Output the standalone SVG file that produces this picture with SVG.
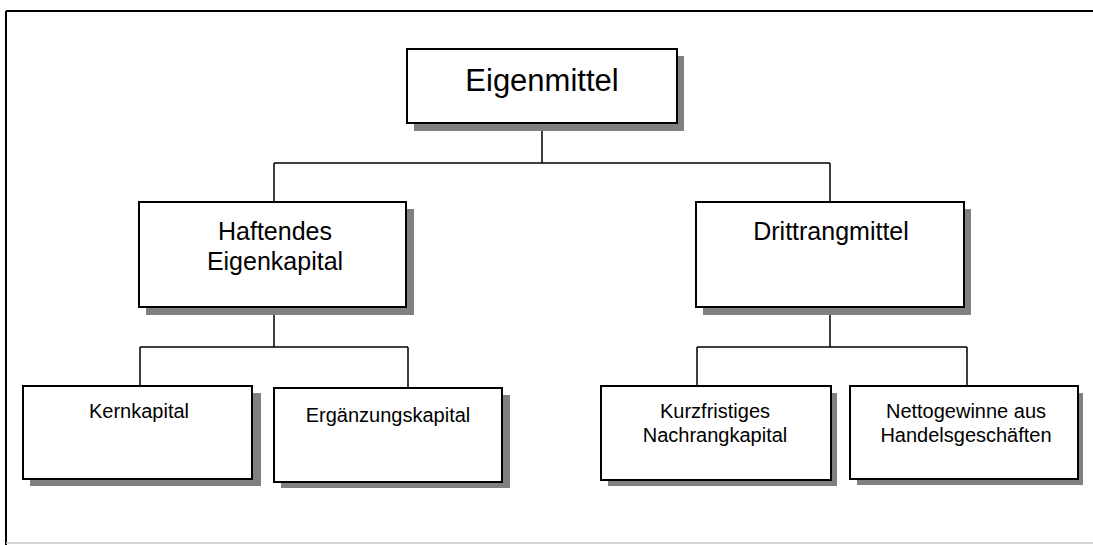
<svg xmlns="http://www.w3.org/2000/svg" width="1093" height="545" viewBox="0 0 1093 545">
<style>
.box{fill:#fff;stroke:#000;stroke-width:2}
.sh{fill:#808080}
.ln{fill:none;stroke:#000;stroke-width:1.5}
text{font-family:"Liberation Sans",Arial,sans-serif;fill:#000;text-anchor:middle}
</style>
<rect width="1093" height="545" fill="#fff"/>
<g id="frame">
<line x1="6" y1="11" x2="1093" y2="11" stroke="#000" stroke-width="2"/>
<line x1="6" y1="11" x2="6" y2="545" stroke="#000" stroke-width="2"/>
<line x1="6" y1="543" x2="1093" y2="543" stroke="#c8c8c8" stroke-width="1.5"/>
</g>
<g id="connectors">
<path class="ln" d="M542,123 V163 M274,163 H830 M274,163 V202 M830,163 V202"/>
<path class="ln" d="M274,307 V347 M140,347 H408 M140,347 V386 M408,347 V388"/>
<path class="ln" d="M830,307 V347 M697,347 H967 M697,347 V386 M967,347 V386"/>
</g>
<g id="n-eigenmittel">
<rect class="sh" x="414" y="56" width="270" height="75"/>
<rect class="box" x="407" y="49" width="270" height="74"/>
<text x="542" y="91" font-size="31">Eigenmittel</text>
</g>
<g id="n-haftendes">
<rect class="sh" x="146" y="209" width="268" height="106"/>
<rect class="box" x="139" y="202" width="267" height="105"/>
<text x="275" y="240" font-size="25">Haftendes</text>
<text x="275" y="270" font-size="25">Eigenkapital</text>
</g>
<g id="n-drittrang">
<rect class="sh" x="703" y="209" width="268" height="106"/>
<rect class="box" x="696" y="202" width="268" height="105"/>
<text x="831" y="240" font-size="25">Drittrangmittel</text>
</g>
<g id="n-kern">
<rect class="sh" x="30" y="393" width="231" height="93"/>
<rect class="box" x="23" y="386" width="229" height="93"/>
<text x="139" y="418" font-size="20">Kernkapital</text>
</g>
<g id="n-ergaenzung">
<rect class="sh" x="281" y="395" width="229" height="93"/>
<rect class="box" x="274" y="388" width="228" height="94"/>
<text x="388" y="422" font-size="20">Ergänzungskapital</text>
</g>
<g id="n-kurzfristig">
<rect class="sh" x="608" y="393" width="229" height="93"/>
<rect class="box" x="601" y="386" width="230" height="94"/>
<text x="715" y="418" font-size="20">Kurzfristiges</text>
<text x="715" y="442" font-size="20">Nachrangkapital</text>
</g>
<g id="n-netto">
<rect class="sh" x="857" y="393" width="226" height="92"/>
<rect class="box" x="850" y="386" width="228" height="93"/>
<text x="966" y="418" font-size="20">Nettogewinne aus</text>
<text x="966" y="442" font-size="20">Handelsgeschäften</text>
</g>
</svg>
